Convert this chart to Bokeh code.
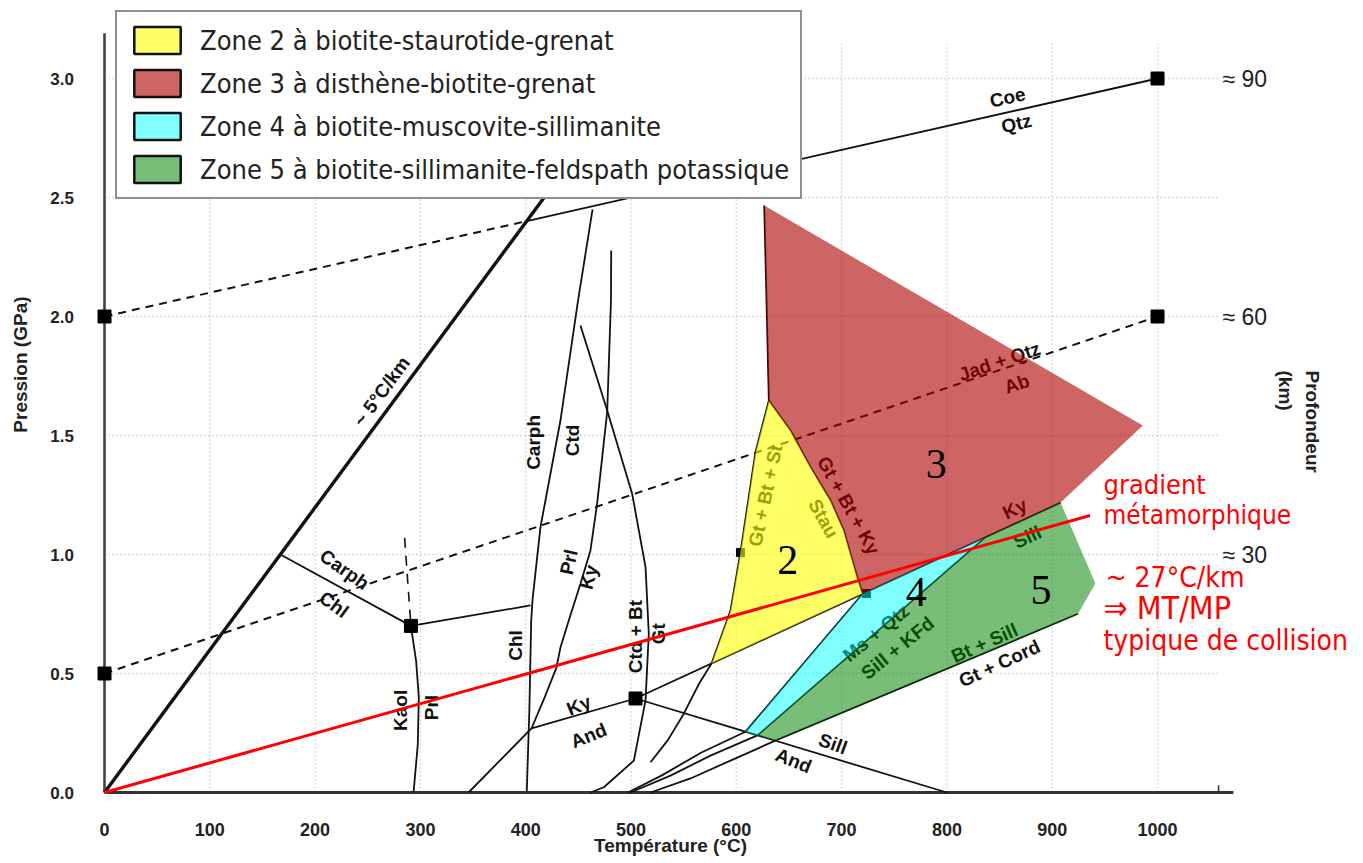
from bokeh.plotting import figure
from bokeh.models import Range1d, Legend, LegendItem
from bokeh.core.properties import value
from bokeh.embed import file_html
from bokeh.resources import INLINE

# ---------------- data (T in °C, P in GPa) ----------------
temp_ticks = [0, 100, 200, 300, 400, 500, 600, 700, 800, 900, 1000]
temp_tick_labels = ["0", "100", "200", "300", "400", "500", "600", "700", "800", "900", "1000"]
pres_ticks = [0.0, 0.5, 1.0, 1.5, 2.0, 2.5, 3.0]
pres_tick_labels = ["0.0", "0.5", "1.0", "1.5", "2.0", "2.5", "3.0"]
depth_pres = [3.0, 2.0, 1.0]
depth_labels = ["≈ 90", "≈ 60", "≈ 30"]

zone_names = ["Zone 2 à biotite-staurotide-grenat",
              "Zone 3 à disthène-biotite-grenat",
              "Zone 4 à biotite-muscovite-sillimanite",
              "Zone 5 à biotite-sillimanite-feldspath potassique"]

zone2_T = [630.9, 651.5, 670.5, 689.5, 702.1, 714.8, 720.0, 576.5, 594.5, 604.0, 618.2]
zone2_P = [1.647, 1.521, 1.367, 1.227, 1.101, 0.905, 0.835, 0.542, 0.765, 1.010, 1.430]
zone3_T = [626.5, 986.0, 908.0, 720.0, 714.8, 702.1, 689.5, 670.5, 651.5, 630.9, 628.5]
zone3_P = [2.466, 1.542, 1.218, 0.835, 0.905, 1.101, 1.227, 1.367, 1.521, 1.647, 2.100]
zone4_T = [720.0, 836.0, 620.0, 608.7]
zone4_P = [0.835, 1.071, 0.240, 0.255]
zone5_T = [620.0, 836.0, 908.0, 941.0, 924.5, 637.0]
zone5_P = [0.240, 1.071, 1.218, 0.878, 0.751, 0.218]

cold_geotherm_T = [0, 430]
cold_geotherm_P = [0.0, 2.575]
coe_qtz_T = [400, 1000]
coe_qtz_P = [2.4, 3.0]
dashed1_T = [0, 400]
dashed1_P = [2.0, 2.4]
jad_qtz_ab_T = [0, 1000]
jad_qtz_ab_P = [0.5, 2.0]
gradient_T = [0, 936]
gradient_P = [0.0, 1.164]

carph_chl_T = [167, 291]
carph_chl_P = [1.0, 0.70]
chl_T = [291, 404.6]
chl_P = [0.70, 0.786]
kaol_prl_T = [291, 296, 298.5, 297.5, 293.5]
kaol_prl_P = [0.70, 0.55, 0.40, 0.20, 0.0]
kaol_dash_T = [285, 291]
kaol_dash_P = [1.07, 0.70]
carph_ctd_T = [401, 403.5, 405.2, 406.5, 414, 433, 449.7, 463.5]
carph_ctd_P = [0.0, 0.35, 0.72, 0.81, 1.115, 1.563, 2.067, 2.45]
prl_ky_T = [481.2, 481.0, 477.4, 467.8, 461.5, 452.0, 440.9, 433.0, 429.2, 418.0, 405.5, 345.7]
prl_ky_P = [2.277, 2.067, 1.600, 1.213, 1.017, 0.877, 0.723, 0.609, 0.525, 0.400, 0.269, 0.0]
ctd_bt_T = [452.0, 477.4, 501.1, 513.8, 516.9, 513.8, 502.7, 474.2, 461.5]
ctd_bt_P = [1.962, 1.605, 1.255, 0.947, 0.667, 0.387, 0.134, 0.022, 0.0]
stau_T = [626.5, 628.5, 630.9, 618.2, 604.0, 594.5, 576.5, 565.0, 550.0, 535.0, 518.5]
stau_P = [2.466, 2.100, 1.647, 1.430, 1.010, 0.765, 0.542, 0.460, 0.330, 0.220, 0.127]
gt_bt_ky_T = [630.9, 651.5, 670.5, 689.5, 702.1, 714.8, 720.0]
gt_bt_ky_P = [1.647, 1.521, 1.367, 1.227, 1.101, 0.905, 0.835]
ky_and_T = [405.5, 504.3]
ky_and_P = [0.269, 0.395]
ky_sill_T = [504.3, 908.0]
ky_sill_P = [0.395, 1.218]
sill_and_T = [504.3, 800.0]
sill_and_P = [0.395, 0.0]
musc1_T = [497.0, 528.9, 566.9, 608.7, 720.0]
musc1_P = [0.0, 0.071, 0.168, 0.255, 0.835]
musc2_T = [499.5, 537.5, 575.5, 620.0, 836.0]
musc2_P = [0.0, 0.071, 0.155, 0.240, 1.071]
musc3_T = [518.5, 556.5, 594.5, 637.0, 924.5]
musc3_P = [0.0, 0.059, 0.134, 0.218, 0.751]

points_T = [0, 0, 1000, 1000, 291, 504.3]
points_P = [2.0, 0.5, 3.0, 2.0, 0.70, 0.395]
small_points_T = [604.0, 723.6]
small_points_P = [1.008, 0.836]

# ---------------- figure ----------------
PX_T = 1.053   # px per °C
PX_P = 238.0   # px per GPa
X0, Y0 = 104, 792  # pixel position of the origin (T=0, P=0) inside the canvas
W, H = 1360, 860
p = figure(width=W, height=H, output_backend="svg", toolbar_location=None,
           x_axis_type=None, y_axis_type=None,
           x_range=Range1d(-X0 / PX_T, (W - X0) / PX_T),
           y_range=Range1d((Y0 - H) / PX_P, Y0 / PX_P),
           min_border=0, outline_line_color=None)
p.background_fill_color = "white"
p.border_fill_color = "white"

SANS = "Liberation Sans"
COND = "DejaVu Sans Condensed, DejaVu Sans"

# grid
grid_top = 3.15
grid_right = 1058
p.multi_line(xs=[[t, t] for t in temp_ticks[1:]], ys=[[0, grid_top]] * len(temp_ticks[1:]),
             line_color="#b5b5b5", line_width=1.3, line_dash="1 3")
p.multi_line(xs=[[0, grid_right]] * len(pres_ticks[1:]), ys=[[v, v] for v in pres_ticks[1:]],
             line_color="#b5b5b5", line_width=1.3, line_dash="1 3")

# axes lines
p.line([0, 0], [0, 3.19], line_color="#4a3f38", line_width=2.6)
p.line([0, 1072], [0, 0], line_color="#333333", line_width=3)
p.line([grid_right, grid_right], [0, 0.03], line_color="#333333", line_width=1.5)

# tick labels
p.text(x=[-29] * len(pres_ticks), y=pres_ticks, text=pres_tick_labels,
       text_font=value(SANS), text_font_style="bold", text_font_size=value("17px"),
       text_color="#222222", text_align="right", text_baseline="middle")
p.text(x=temp_ticks, y=[-0.155] * len(temp_ticks), text=temp_tick_labels,
       text_font=value(SANS), text_font_style="bold", text_font_size=value("18px"),
       text_color="#222222", text_align="center", text_baseline="middle")
p.text(x=[1061.7] * 3, y=depth_pres, text=depth_labels,
       text_font=value(SANS), text_font_size=value("23px"),
       text_color="#222222", text_align="left", text_baseline="middle")

# axis titles
p.text(x=[-79.8], y=[1.798], text=["Pression (GPa)"], angle=[90], angle_units="deg",
       text_font=value(SANS), text_font_style="bold", text_font_size=value("19px"),
       text_color="#222222", text_align="center", text_baseline="middle")
p.text(x=[537.5], y=[-0.222], text=["Température (°C)"],
       text_font=value(SANS), text_font_style="bold", text_font_size=value("19px"),
       text_color="#222222", text_align="center", text_baseline="middle")
p.text(x=[1147.2, 1121.6], y=[1.773, 1.773], text=["Profondeur", "(km)"], angle=[-90, -90],
       angle_units="deg", text_font=value(SANS), text_font_style="bold",
       text_font_size=value("19px"), text_color="#222222", text_align="left",
       text_baseline="middle")

# reaction lines (drawn beneath the zones)
thin = dict(line_color="#111111", line_width=1.8)
for xs, ys in [(coe_qtz_T, coe_qtz_P), (carph_chl_T, carph_chl_P), (chl_T, chl_P),
               (kaol_prl_T, kaol_prl_P), (carph_ctd_T, carph_ctd_P), (prl_ky_T, prl_ky_P),
               (ctd_bt_T, ctd_bt_P), (stau_T, stau_P), (gt_bt_ky_T, gt_bt_ky_P),
               (ky_and_T, ky_and_P), (ky_sill_T, ky_sill_P), (sill_and_T, sill_and_P),
               (musc1_T, musc1_P), (musc2_T, musc2_P), (musc3_T, musc3_P)]:
    p.line(xs, ys, **thin)
p.line(cold_geotherm_T, cold_geotherm_P, line_color="#111111", line_width=3.4)
p.line(dashed1_T, dashed1_P, line_color="#111111", line_width=2, line_dash="8 6")
p.line(jad_qtz_ab_T, jad_qtz_ab_P, line_color="#111111", line_width=2, line_dash="8 6")
p.line(kaol_dash_T, kaol_dash_P, line_color="#111111", line_width=1.6, line_dash="10 8")

p.scatter(points_T, points_P, marker="square", size=13, color="black")
p.scatter(small_points_T, small_points_P, marker="square", size=8, color="black")

# reaction labels
lab_text = ["~ 5°C/km", "Coe", "Qtz", "Jad + Qtz", "Ab", "Gt + Bt + Ky", "Stau", "Gt + Bt + St",
            "Ky", "Sill", "Ms + Qtz", "Sill + KFd", "Bt + Sill", "Gt + Cord", "Sill", "And",
            "Ky", "And", "Chl", "Prl", "Ky", "Carph", "Ctd", "Ctd + Bt", "Gt", "Carph", "Chl",
            "Kaol", "Prl"]
lab_T = [263.1, 857.6, 866.1, 850.0, 866.5, 706.6, 682.8, 627.7,
         864.5, 876.5, 732.7, 753.1, 835.7, 850.0, 691.8, 654.3,
         450.4, 459.9, 390.3, 440.9, 459.9, 407.4, 444.4, 504.3, 526.4, 227.9, 217.9,
         280.7, 310.4]
lab_P = [1.685, 2.920, 2.811, 1.811, 1.717, 1.206, 1.151, 1.248,
         1.192, 1.073, 0.670, 0.607, 0.628, 0.542, 0.205, 0.134,
         0.366, 0.239, 0.618, 0.968, 0.905, 1.471, 1.479, 0.655, 0.667, 0.937, 0.790,
         0.345, 0.357]
lab_angle = [53.5, 12.7, 12.7, 19, 19, -61, -61, 78,
             25, 25, 39, 39, 24, 25, -20, -22,
             22, 22, 90, 78, 75, 90, 90, 90, 90, -35, -36,
             90, 90]
p.text(x=lab_T, y=lab_P, text=lab_text, angle=lab_angle, angle_units="deg",
       text_font=value(SANS), text_font_style="bold", text_font_size=value("19px"),
       text_color="#111111", text_align="center", text_baseline="middle")

# zones (semi-transparent, over the lines)
p.patch(zone2_T, zone2_P, fill_color="#ffff00", fill_alpha=0.6, line_alpha=0)
p.patch(zone3_T, zone3_P, fill_color="#ac0000", fill_alpha=0.604, line_alpha=0)
p.patch(zone4_T, zone4_P, fill_color="#00ffff", fill_alpha=0.5, line_alpha=0)
p.patch(zone5_T, zone5_P, fill_color="#008200", fill_alpha=0.53, line_alpha=0)

# metamorphic gradient
p.line(gradient_T, gradient_P, line_color="#ff0000", line_width=3)

# zone numbers
p.text(x=[648.9, 790.0, 771.0, 889.4], y=[0.975, 1.38, 0.842, 0.849], text=["2", "3", "4", "5"],
       text_font=value("Liberation Serif"), text_font_size=value("42px"),
       text_color="black", text_align="center", text_baseline="middle")

# gradient annotation
p.text(x=[948.7, 948.7, 950.6, 948.7, 948.7], y=[1.294, 1.164, 0.903, 0.775, 0.639],
       text=["gradient", "métamorphique", "~ 27°C/km", "⇒ MT/MP", "typique de collision"],
       text_font=value(COND), text_font_size=["27px", "26px", "28px", "32px", "28px"],
       text_color="#ff0000", text_align="left", text_baseline="middle")

# legend swatches (renderers with no drawable geometry, used only for the legend)
nan = float("nan")
colors = ["#ffff66", "#cd6565", "#80ffff", "#78bd78"]
items = []
for name, c in zip(zone_names, colors):
    r = p.quad(left=[nan], right=[nan], top=[nan], bottom=[nan], fill_color=c,
               line_color="#111111", line_width=2.5)
    items.append(LegendItem(label=name, renderers=[r]))
legend = Legend(items=items, location=(115, 661), orientation="vertical",
                glyph_width=58, glyph_height=34, label_height=34, spacing=9, padding=11,
                label_standoff=14, margin=0, border_line_color="#222222", border_line_width=2,
                background_fill_color="white", background_fill_alpha=1.0,
                label_text_font=COND, label_text_font_size="27px", label_text_color="#222222")
p.add_layout(legend)

open("out.html", "w").write(file_html(p, INLINE))
